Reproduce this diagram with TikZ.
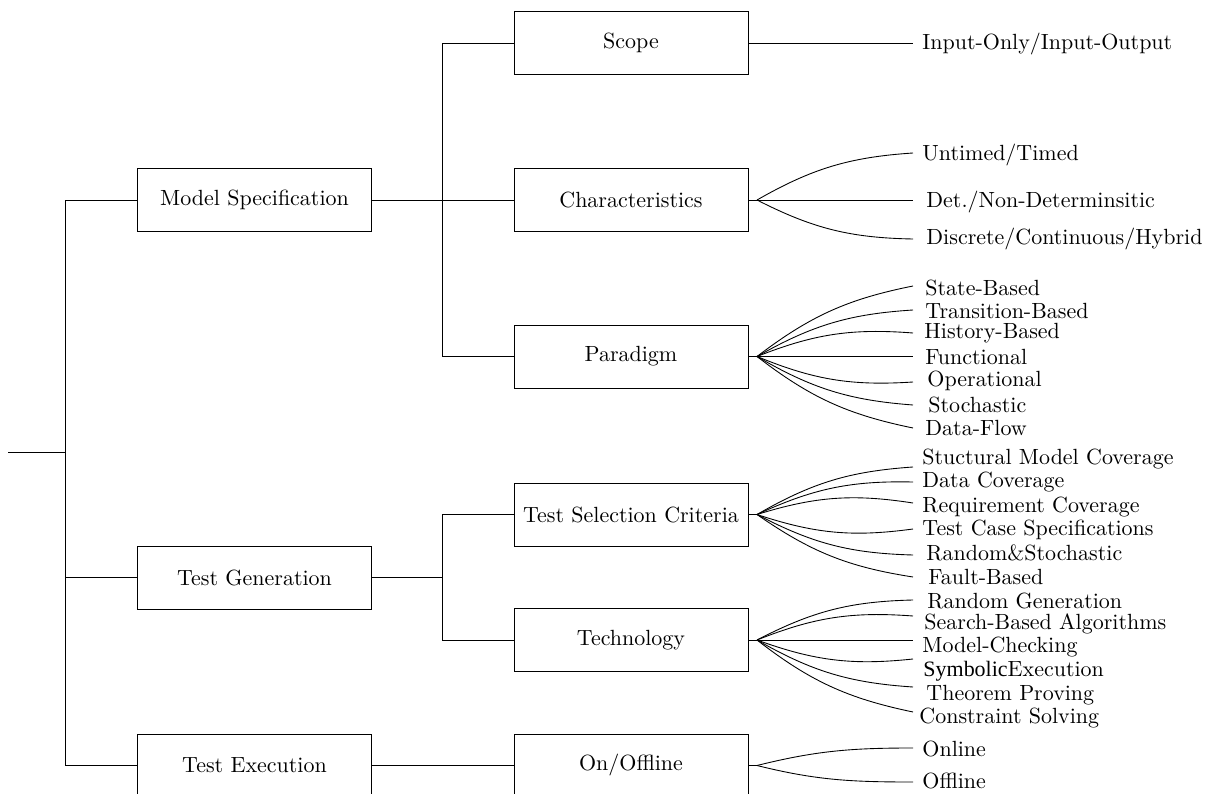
\documentclass[tikz,border=0pt]{standalone}
\usepackage{fontspec}
\newfontfamily\symfont{Liberation Serif}
\begin{document}
\begin{tikzpicture}[x=0.455pt,y=-0.455pt,
  box/.style={draw,line width=0.4pt,minimum width=106.5pt,minimum height=28.7pt,inner sep=0pt},
  leaf/.style={anchor=base west,inner sep=0pt},
  up/.style={bend left=13},
  down/.style={bend right=13},
  every path/.style={line width=0.4pt}]
\useasboundingbox (0,0) rectangle (1211,794);

% level 1
\node[box] (ms) at (254.5,200) {Model Specification};
\node[box] (tg) at (254.5,577.5) {Test Generation};
\node[box] (te) at (254.5,765.5) {Test Execution};
% level 2
\node[box] (sc)   at (631,43)    {Scope};
\node[box] (ch)   at (631,200)   {Characteristics};
\node[box] (pa)   at (631,356.5) {Paradigm};
\node[box] (tsc)  at (631,514.5) {Test Selection Criteria};
\node[box] (tech) at (631,640)   {Technology};
\node[box] (oo)   at (631,765.5) {On/Offline};

% trunk
\coordinate (root) at (8,452);
\coordinate (j0) at (65,452);
\draw (root) -- (j0);
\draw (j0) |- (ms.west);
\draw (j0) |- (tg.west);
\draw (j0) |- (te.west);

% branches
\coordinate (j1) at (442,200);
\coordinate (j2) at (442,577.5);
\draw (ms.east) -- (ch.west);
\draw (j1) |- (sc.west);
\draw (j1) |- (pa.west);
\draw (tg.east) -- (j2);
\draw (j2) |- (tsc.west);
\draw (j2) |- (tech.west);
\draw (te.east) -- (oo.west);

% fan points
\coordinate (fch) at (757,200);
\coordinate (fpa) at (757,356.5);
\coordinate (fts) at (757,514.5);
\coordinate (fte) at (757,640);
\coordinate (foo) at (757,765.5);
\draw (ch.east) -- (fch);
\draw (pa.east) -- (fpa);
\draw (tsc.east) -- (fts);
\draw (tech.east) -- (fte);
\draw (oo.east) -- (foo);

% leaf labels
\node[leaf] (l1)  at (922,50)  {Input-Only/Input-Output};
\node[leaf] (l2)  at (922,161) {Untimed/Timed};
\node[leaf] (l3)  at (926,208) {Det./Non-Determinsitic};
\node[leaf] (l4)  at (926,245) {Discrete/Continuous/Hybrid};
\node[leaf] (l5)  at (925,296) {State-Based};
\node[leaf] (l6)  at (925,319) {Transition-Based};
\node[leaf] (l7)  at (924,339) {History-Based};
\node[leaf] (l8)  at (925,365) {Functional};
\node[leaf] (l9)  at (927,386) {Operational};
\node[leaf] (l10) at (928,412) {Stochastic};
\node[leaf] (l11) at (925,436) {Data-Flow};
\node[leaf] (l12) at (922,464) {Stuctural Model Coverage};
\node[leaf] (l13) at (922,487) {Data Coverage};
\node[leaf] (l14) at (922,512) {Requirement Coverage};
\node[leaf] (l15) at (922,535) {Test Case Specifications};
\node[leaf] (l16) at (926,560) {Random\&Stochastic};
\node[leaf] (l17) at (928,584) {Fault-Based};
\node[leaf] (l18) at (927,608) {Random Generation};
\node[leaf] (l19) at (924,629) {Search-Based Algorithms};
\node[leaf] (l20) at (922,652) {Model-Checking};
\node[leaf] (l21) at (923,676) {{\symfont Symbolic}Execution};
\node[leaf] (l22) at (926,700) {Theorem Proving};
\node[leaf] (l23) at (919,723) {Constraint Solving};
\node[leaf] (l24) at (922,756) {Online};
\node[leaf] (l25) at (922,788) {Offline};

% line ends in front of the labels
\coordinate (e1)  at (913,43);
\coordinate (e2)  at (913,153);
\coordinate (e3)  at (913,200);
\coordinate (e4)  at (913,239);
\coordinate (e5)  at (913,286);
\coordinate (e6)  at (913,310);
\coordinate (e7)  at (913,333);
\coordinate (e8)  at (913,356.5);
\coordinate (e9)  at (913,382);
\coordinate (e10) at (913,405);
\coordinate (e11) at (913,428);
\coordinate (e12) at (913,467);
\coordinate (e13) at (913,482);
\coordinate (e14) at (913,503);
\coordinate (e15) at (913,529);
\coordinate (e16) at (913,555);
\coordinate (e17) at (913,577);
\coordinate (e18) at (913,600);
\coordinate (e19) at (913,616);
\coordinate (e20) at (913,640);
\coordinate (e21) at (913,659);
\coordinate (e22) at (913,687);
\coordinate (e23) at (913,712);
\coordinate (e24) at (913,748);
\coordinate (e25) at (913,782);

% connectors to the labels
\draw (sc.east) -- (e1);
\draw (fch) to[up] (e2);
\draw (fch) -- (e3);
\draw (fch) to[down] (e4);

\draw (fpa) to[up] (e5);
\draw (fpa) to[up] (e6);
\draw (fpa) to[up] (e7);
\draw (fpa) -- (e8);
\draw (fpa) to[down] (e9);
\draw (fpa) to[down] (e10);
\draw (fpa) to[down] (e11);

\draw (fts) to[up] (e12);
\draw (fts) to[up] (e13);
\draw (fts) to[up] (e14);
\draw (fts) to[down] (e15);
\draw (fts) to[down] (e16);
\draw (fts) to[down] (e17);

\draw (fte) to[up] (e18);
\draw (fte) to[up] (e19);
\draw (fte) -- (e20);
\draw (fte) to[down] (e21);
\draw (fte) to[down] (e22);
\draw (fte) to[down] (e23);

\draw (foo) to[out=14,in=180] (e24);
\draw (foo) to[out=-14,in=180] (e25);
\end{tikzpicture}
\end{document}
